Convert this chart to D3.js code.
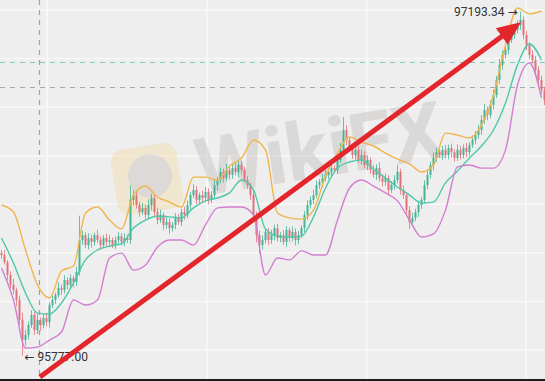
<!DOCTYPE html>
<html>
<head>
<meta charset="utf-8">
<script src="https://cdn.jsdelivr.net/npm/d3@7.9.0/dist/d3.min.js"></script>
<style>
  html, body { margin: 0; padding: 0; background: #eeeeef; }
  svg { display: block; }
</style>
</head>
<body>
<svg id="chart" width="545" height="381"></svg>
<script>
// closing prices, one per candle
const closes = [
  96191, 96162, 96109, 96068, 96047, 96006, 95924, 95841, 95862, 95903,
  95944, 95882, 95924, 95903, 95932, 95915, 95985, 96006, 96026, 96055,
  96047, 96088, 96068, 96096, 96080, 96121, 96253, 96273, 96232, 96261,
  96245, 96273, 96253, 96232, 96261, 96245, 96253, 96232, 96253, 96269,
  96245, 96261, 96253, 96418, 96438, 96397, 96368, 96385, 96356, 96397,
  96426, 96368, 96335, 96356, 96315, 96327, 96302, 96315, 96344, 96327,
  96368, 96356, 96397, 96438, 96459, 96418, 96438, 96426, 96451, 96418,
  96438, 96479, 96500, 96533, 96508, 96541, 96521, 96549, 96533, 96562,
  96541, 96500, 96479, 96438, 96356, 96273, 96232, 96253, 96286, 96253,
  96273, 96302, 96261, 96273, 96245, 96294, 96261, 96286, 96253, 96273,
  96302, 96356, 96397, 96418, 96438, 96479, 96492, 96508, 96521, 96533,
  96549, 96541, 96582, 96624, 96706, 96665, 96632, 96603, 96624, 96582,
  96603, 96562, 96582, 96541, 96521, 96549, 96508, 96492, 96508, 96459,
  96479, 96500, 96533, 96459, 96438, 96376, 96327, 96344, 96368, 96397,
  96418, 96479, 96521, 96562, 96591, 96615, 96603, 96624, 96603, 96632,
  96615, 96591, 96624, 96603, 96632, 96615, 96644, 96665, 96685, 96706,
  96747, 96788, 96768, 96809, 96850, 96912, 96974, 97015, 97035, 97076,
  97097, 97118, 97138, 97159, 97097, 97056, 97015, 96994, 96953, 96912,
  96871, 96829
];
const firstOpen = 96200;

// wick length above / below the body, in price units
const wickHi = [
  12, 20, 8, 15, 25, 10, 18, 30, 22, 14,
  20, 12, 26, 10, 16, 22, 12, 18, 10, 24,
  14, 20, 12, 16, 10, 22, 100, 18, 12, 20,
  14, 10, 22, 16, 12, 18, 20, 10, 14, 16,
  12, 20, 14, 60, 22, 16, 12, 20, 14, 24,
  18, 12, 16, 22, 10, 18, 14, 12, 20, 16,
  14, 22, 18, 12, 24, 16, 10, 18, 20, 14,
  16, 22, 12, 18, 14, 26, 12, 16, 20, 14,
  18, 12, 16, 10, 22, 14, 18, 20, 12, 16,
  22, 14, 18, 12, 20, 16, 10, 22, 14, 18,
  12, 16, 20, 14, 22, 18, 12, 16, 20, 14,
  18, 12, 22, 28, 53, 20, 14, 18, 12, 16,
  22, 14, 18, 12, 20, 16, 24, 14, 18, 12,
  16, 20, 30, 14, 18, 12, 16, 22, 14, 18,
  12, 20, 16, 14, 22, 18, 12, 16, 20, 14,
  18, 12, 22, 16, 14, 20, 12, 18, 16, 22,
  20, 26, 14, 18, 22, 16, 24, 18, 20, 16,
  22, 18, 20, 34.34, 14, 18, 12, 20, 16, 14,
  18, 12
];
const wickLo = [
  16, 10, 22, 14, 18, 26, 20, 64, 24, 18,
  12, 20, 16, 24, 14, 18, 22, 12, 16, 10,
  20, 14, 18, 12, 22, 16, 14, 20, 12, 18,
  24, 16, 12, 20, 14, 18, 22, 12, 16, 20,
  14, 18, 12, 16, 22, 14, 20, 12, 18, 16,
  22, 14, 18, 12, 20, 16, 24, 14, 18, 12,
  16, 20, 14, 22, 12, 18, 16, 20, 14, 18,
  12, 16, 22, 14, 18, 12, 20, 16, 14, 22,
  18, 12, 16, 20, 24, 30, 36, 18, 14, 20,
  16, 22, 14, 18, 12, 20, 16, 14, 22, 18,
  12, 16, 20, 14, 18, 12, 16, 22, 14, 18,
  20, 14, 16, 12, 18, 22, 14, 16, 20, 12,
  18, 14, 22, 16, 12, 20, 14, 18, 16, 22,
  12, 18, 14, 20, 16, 22, 28, 18, 14, 20,
  16, 12, 18, 14, 22, 16, 12, 20, 14, 18,
  22, 16, 12, 18, 14, 20, 16, 12, 18, 14,
  20, 16, 22, 14, 18, 12, 16, 20, 14, 18,
  12, 16, 14, 20, 18, 22, 16, 14, 20, 18,
  16, 20
];

// bands, sampled every 4th candle
const bandStep = 4;
const upperBand = [
  96397, 96368, 96212, 96068, 96014, 96125, 96146, 96364, 96389, 96335,
  96298, 96438, 96475, 96430, 96409, 96389, 96512, 96512, 96500, 96558,
  96591, 96665, 96624, 96364, 96344, 96339, 96376, 96516, 96611, 96677,
  96656, 96640, 96611, 96586, 96566, 96533, 96562, 96693, 96685, 96673,
  96726, 96850, 97056, 97208, 97184, 97196
];
const midBand = [
  96261, 96158, 96035, 95952, 95948, 95994, 96076, 96171, 96212, 96228,
  96237, 96302, 96335, 96352, 96348, 96344, 96385, 96414, 96426, 96447,
  96500, 96459, 96298, 96269, 96265, 96269, 96348, 96467, 96549, 96574,
  96582, 96545, 96508, 96471, 96438, 96405, 96409, 96488, 96537, 96591,
  96640, 96706, 96817, 96974, 97060, 96994
];
const lowerBand = [
  96138, 96006, 95808, 95812, 95841, 95874, 96006, 95985, 96006, 96179,
  96199, 96129, 96150, 96224, 96253, 96253, 96232, 96315, 96385, 96389,
  96389, 96356, 96109, 96179, 96171, 96208, 96191, 96191, 96335, 96467,
  96500, 96475, 96447, 96414, 96335, 96265, 96278, 96376, 96554, 96562,
  96549, 96549, 96624, 96891, 96982, 96838
];

const priceGrid = [95800, 96000, 96200, 96400, 96600, 96800, 97000, 97200];
const timeGrid = [15.2, 68.5, 121.8, 174.8];
const crossIdx = 12.5;
const levelPrices = [96986, 96883];
const levelColors = ['#7fcab8', '#a8a8aa'];
const arrowFrom = [12.8, 95689];
const arrowTo = [173.2, 97150];

const width = 545, height = 381;
const svg = d3.select('#chart');

const candles = closes.map((c, i) => {
  const o = i === 0 ? firstOpen : closes[i - 1];
  return {
    i: i,
    open: o,
    close: c,
    high: Math.max(o, c) + wickHi[i],
    low: Math.min(o, c) - wickLo[i]
  };
});

let x = d3.scaleLinear().domain([0, closes.length - 1]).range([1.5, 544.5]);
let y = d3.scaleLinear().domain([95800, 97200]).range([350, 10]);

svg.append('rect').attr('width', width).attr('height', height).attr('fill', '#eeeeef');

// grid
svg.selectAll('line.hgrid')
  .data(priceGrid)
  .enter()
  .append('line')
  .attr('x1', 0).attr('x2', width)
  .attr('y1', d => y(d)).attr('y2', d => y(d))
  .attr('stroke', '#f8f8f8').attr('stroke-width', 1.5);

svg.selectAll('line.vgrid')
  .data(timeGrid)
  .enter()
  .append('line')
  .attr('x1', d => x(d)).attr('x2', d => x(d))
  .attr('y1', 0).attr('y2', height)
  .attr('stroke', '#f8f8f8').attr('stroke-width', 1.5);

// watermark
let wm = svg.append('g').attr('opacity', 0.55);
wm.append('rect')
  .attr('x', 114).attr('y', 146).attr('width', 66).attr('height', 66).attr('rx', 12)
  .attr('transform', 'rotate(-9 147 179)')
  .attr('fill', '#f3dfb4');
wm.append('circle').attr('cx', 150).attr('cy', 176).attr('r', 22).attr('fill', '#cfc9c3');
wm.append('text')
  .attr('x', 200).attr('y', 196)
  .attr('transform', 'rotate(-9 200 196)')
  .attr('font-family', 'Roboto, sans-serif')
  .attr('font-weight', 700)
  .attr('font-size', 80)
  .attr('fill', '#cdc9c6')
  .text('WikiFX');

// dashed levels and crosshair
svg.selectAll('line.level')
  .data(levelPrices)
  .enter()
  .append('line')
  .attr('x1', 0).attr('x2', width)
  .attr('y1', d => Math.round(y(d)) + 0.5).attr('y2', d => Math.round(y(d)) + 0.5)
  .attr('stroke', (d, i) => levelColors[i])
  .attr('stroke-width', 1.2)
  .attr('stroke-dasharray', '5,5');

svg.append('line')
  .attr('x1', Math.round(x(crossIdx)) + 0.5).attr('x2', Math.round(x(crossIdx)) + 0.5)
  .attr('y1', 0).attr('y2', height)
  .attr('stroke', '#a0a0a2').attr('stroke-width', 1.2)
  .attr('stroke-dasharray', '5,5');

// candles
let up = '#45b495', down = '#e0737a';
let cg = svg.append('g');
cg.selectAll('line')
  .data(candles)
  .enter()
  .append('line')
  .attr('x1', d => x(d.i)).attr('x2', d => x(d.i))
  .attr('y1', d => y(d.high)).attr('y2', d => y(d.low))
  .attr('stroke', d => d.close >= d.open ? up : down)
  .attr('stroke-width', 0.8);
cg.selectAll('rect')
  .data(candles)
  .enter()
  .append('rect')
  .attr('x', d => x(d.i) - 1)
  .attr('width', 2)
  .attr('y', d => y(Math.max(d.open, d.close)))
  .attr('height', d => Math.max(1, Math.abs(y(d.open) - y(d.close))))
  .attr('fill', d => d.close >= d.open ? up : down);

// bands
let band = d3.line()
  .x((d, i) => x(i * bandStep))
  .y(d => y(d))
  .curve(d3.curveMonotoneX);

[[upperBand, '#f2b54a'], [midBand, '#4fc8aa'], [lowerBand, '#d27fd0']].forEach(([vals, color]) => {
  svg.append('path')
    .attr('d', band(vals))
    .attr('fill', 'none')
    .attr('stroke', color)
    .attr('stroke-width', 1.4);
});

// high / low labels
let hiIdx = d3.maxIndex(candles, d => d.high);
let loIdx = d3.minIndex(candles, d => d.low);
let hi = candles[hiIdx], lo = candles[loIdx];

svg.append('text')
  .attr('x', x(hiIdx) - 3).attr('y', y(hi.high) + 4.5)
  .attr('text-anchor', 'end')
  .attr('font-family', 'Roboto, "DejaVu Sans", sans-serif')
  .attr('font-size', 12)
  .attr('fill', '#333')
  .text(d3.format('.2f')(hi.high) + ' \u2192');

svg.append('text')
  .attr('x', x(loIdx) + 2).attr('y', y(lo.low) + 5)
  .attr('font-family', 'Roboto, "DejaVu Sans", sans-serif')
  .attr('font-size', 12)
  .attr('fill', '#333')
  .text('\u2190 ' + d3.format('.2f')(lo.low));

// red arrow
let x0 = x(arrowFrom[0]), y0 = y(arrowFrom[1]);
let x1 = x(arrowTo[0]), y1 = y(arrowTo[1]);
let ang = Math.atan2(y1 - y0, x1 - x0);
let headLen = 24, headW = 10;
let bx = x1 - headLen * Math.cos(ang), by = y1 - headLen * Math.sin(ang);

svg.append('line')
  .attr('x1', x0).attr('y1', y0)
  .attr('x2', bx + 2 * Math.cos(ang)).attr('y2', by + 2 * Math.sin(ang))
  .attr('stroke', '#e3262b')
  .attr('stroke-width', 5);

svg.append('path')
  .attr('d', d3.line()([
    [x1, y1],
    [bx + headW * Math.sin(ang), by - headW * Math.cos(ang)],
    [bx - headW * Math.sin(ang), by + headW * Math.cos(ang)]
  ]) + 'Z')
  .attr('fill', '#e3262b');

// bottom edge
svg.append('rect').attr('x', 0).attr('y', 379).attr('width', width).attr('height', 2).attr('fill', '#1c1c1c');
</script>
</body>
</html>
